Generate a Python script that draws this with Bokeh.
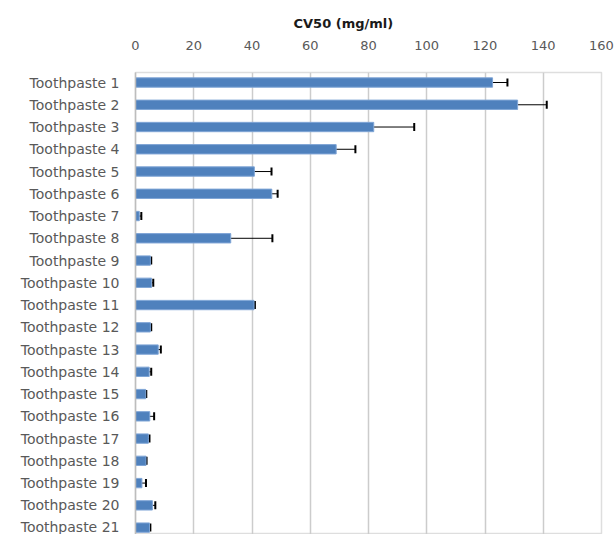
from bokeh.plotting import figure
from bokeh.models import Range1d, FixedTicker, LinearAxis, Whisker, ColumnDataSource, TeeHead, Title
from bokeh.embed import file_html
from bokeh.resources import INLINE

categories = [f"Toothpaste {i}" for i in range(1, 22)]
cv50 = [122.6, 131.2, 81.8, 68.9, 40.8, 46.8, 1.3, 32.7, 5.1, 5.5, 40.7,
        5.1, 7.8, 4.7, 3.5, 4.9, 4.4, 3.6, 2.2, 5.8, 4.8]
err = [5.1, 10.0, 13.9, 6.6, 5.9, 2.0, 0.7, 14.3, 0.3, 0.6, 0.3,
       0.3, 0.9, 0.7, 0.2, 1.5, 0.4, 0.2, 1.4, 1.0, 0.3]
x_ticks = [0, 20, 40, 60, 80, 100, 120, 140, 160]

pos = list(range(1, len(categories) + 1))
src = ColumnDataSource(dict(
    y=pos, v=cv50,
    lo=[a - b for a, b in zip(cv50, err)],
    hi=[a + b for a, b in zip(cv50, err)],
))

FONT = "DejaVu Sans"
GRID = "#cccccc"
TXT = "#595959"

p = figure(width=614, height=534, output_backend="svg", toolbar_location=None,
           x_range=Range1d(0, 160), y_range=Range1d(21.31, 0.55),
           x_axis_location=None, y_axis_location="left",
           min_border_left=135, min_border_right=13, min_border_top=72, min_border_bottom=0)

p.title = Title(text="CV50 (mg/ml)", align="left", offset=158,
                text_font=FONT, text_font_size="13px", text_font_style="bold",
                text_color="#1a1a1a", standoff=13)

top = LinearAxis(ticker=FixedTicker(ticks=x_ticks))
top.major_label_text_font = FONT
top.major_label_text_font_size = "13px"
top.major_label_text_color = TXT
top.major_tick_line_color = None
top.minor_tick_line_color = None
top.axis_line_color = None
top.major_label_standoff = 17
p.add_layout(top, "above")

p.hbar(y="y", right="v", left=0, height=0.42, source=src,
       fill_color="#4F81BD", line_color="#7fa5d6", line_width=1)

wh = Whisker(base="y", lower="lo", upper="hi", source=src, dimension="width",
             line_color="black", line_width=1,
             lower_head=TeeHead(size=8, line_color="black", line_width=2),
             upper_head=TeeHead(size=8, line_color="black", line_width=2))
p.add_layout(wh)

ya = p.yaxis[0]
ya.ticker = FixedTicker(ticks=pos)
ya.major_label_overrides = {k: v for k, v in zip(pos, categories)}
ya.major_label_text_font = FONT
ya.major_label_text_font_size = "14px"
ya.major_label_text_color = TXT
ya.major_tick_line_color = None
ya.minor_tick_line_color = None
ya.axis_line_color = "#bdbdbd"
ya.axis_line_width = 1.5
ya.major_label_standoff = 10

p.xgrid.ticker = FixedTicker(ticks=x_ticks)
p.xgrid.grid_line_color = GRID
p.xgrid.grid_line_width = 1.5
p.ygrid.grid_line_color = None
p.outline_line_color = "#dedede"
p.outline_line_width = 1.5

open("out.html", "w").write(file_html(p, INLINE))
